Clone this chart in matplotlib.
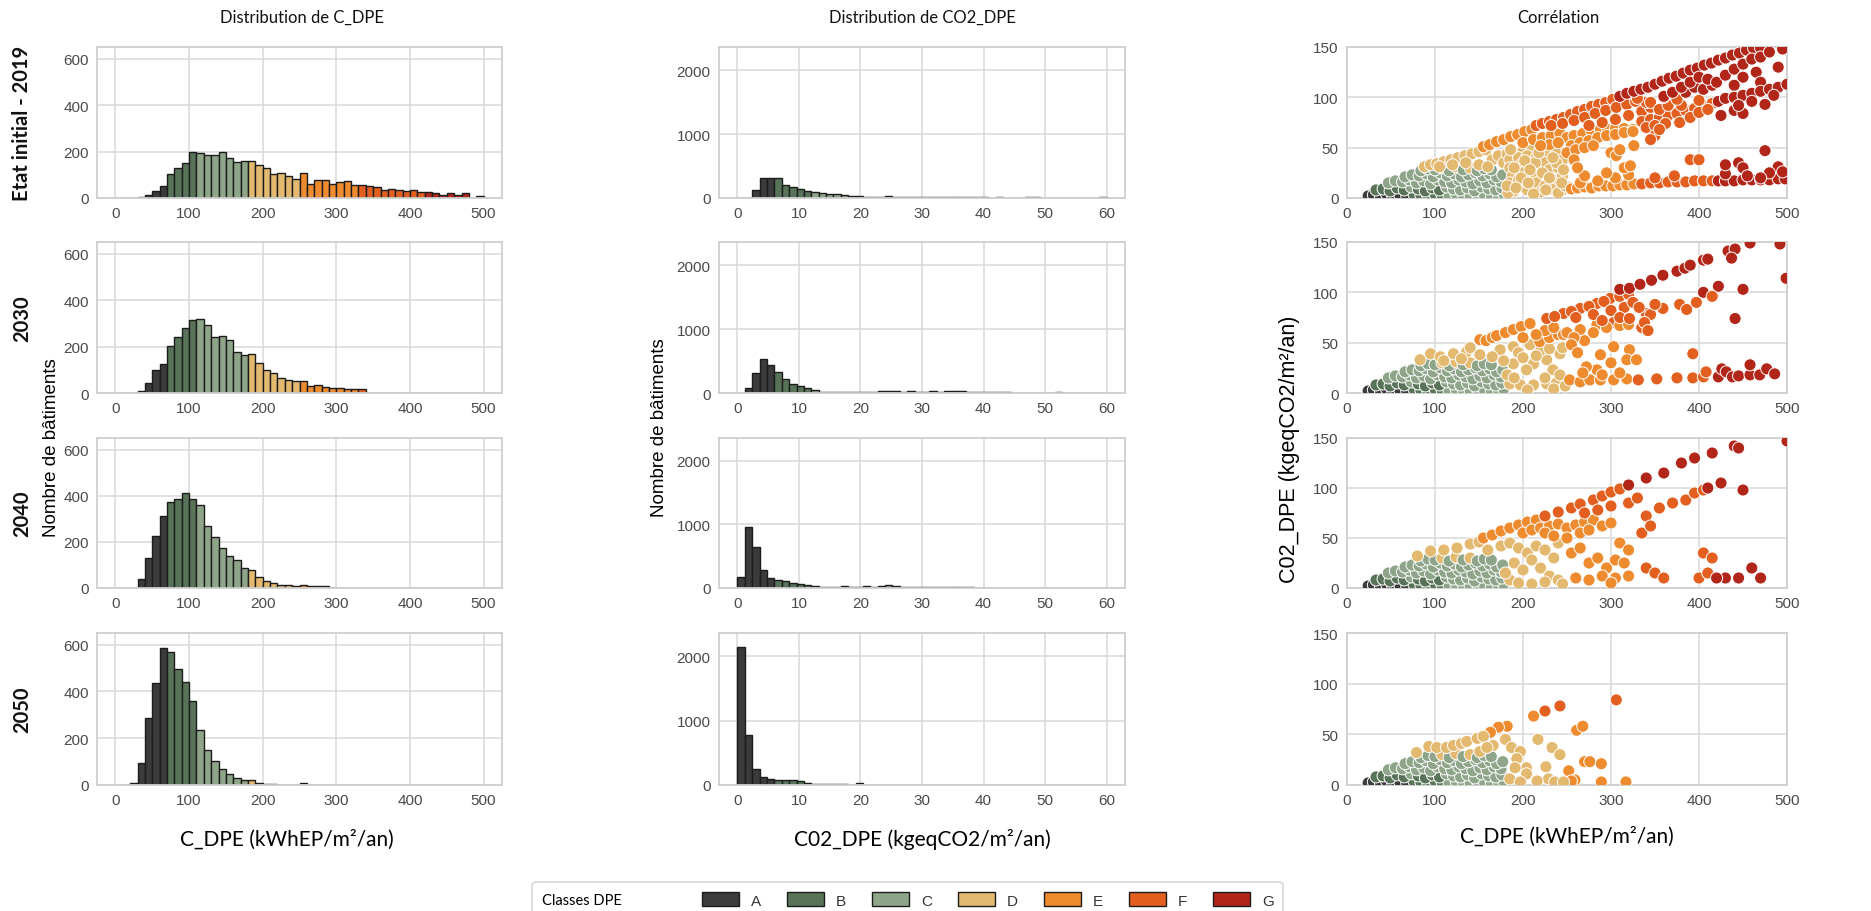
import matplotlib
matplotlib.use('Agg')
import matplotlib.pyplot as plt
import numpy as np
from matplotlib.patches import Patch, FancyBboxPatch

# --- data ---
classes = ['A', 'B', 'C', 'D', 'E', 'F', 'G']
class_colors = ['#3b3b3b', '#587358', '#8ea58a', '#e3b86f', '#ef8b2f', '#e35f20', '#b22519']
e_thr = [70, 110, 180, 250, 330, 420]   # C_DPE class limits
c_thr = [6, 11, 30, 50, 70, 100]        # CO2_DPE class limits
row_names = ['Etat initial - 2019', '2030', '2040', '2050']

# C_DPE histograms, 50 bins of 10 over 0-500
c_2019 = [0, 0, 0, 3, 13, 32, 50, 102, 130, 151,
          200, 193, 183, 187, 200, 173, 155, 160, 160, 144,
          127, 105, 109, 96, 83, 109, 60, 79, 79, 60,
          70, 74, 55, 55, 52, 47, 35, 38, 33, 30,
          33, 25, 25, 20, 15, 20, 12, 20, 0, 8]
c_2030 = [0, 0, 0, 8, 44, 98, 125, 204, 243, 279,
          315, 319, 293, 239, 247, 227, 177, 163, 168, 128,
          98, 88, 66, 55, 52, 52, 30, 35, 25, 22,
          22, 17, 17, 17, 0, 0, 2, 2, 2, 0,
          2, 2, 2, 2, 0, 2, 0, 0, 0, 0]
c_2040 = [0, 0, 2, 39, 132, 226, 314, 371, 386, 412,
          386, 358, 269, 220, 173, 138, 121, 85, 79, 49,
          30, 22, 12, 12, 7, 12, 7, 7, 7, 2,
          2, 2, 2, 2, 0, 0, 0, 0, 0, 0,
          0, 0, 0, 0, 0, 0, 0, 0, 0, 0]
c_2050 = [0, 0, 8, 96, 286, 436, 586, 569, 496, 441,
          361, 237, 149, 103, 67, 45, 32, 20, 20, 10,
          5, 5, 2, 2, 2, 7, 2, 2, 2, 0,
          2, 2, 0, 0, 0, 0, 0, 0, 0, 0,
          0, 0, 0, 0, 0, 0, 0, 0, 0, 0]

# CO2_DPE histograms, 50 bins of 1.2 over 0-60
co2_2019 = [0, 5, 130, 318, 320, 320, 198, 172, 140, 110,
            90, 75, 60, 55, 50, 35, 30, 15, 12, 12,
            25, 12, 10, 10, 10, 10, 10, 10, 10, 10,
            10, 10, 10, 10, 0, 10, 0, 0, 0, 10,
            12, 0, 0, 0, 0, 0, 0, 0, 0, 12]
co2_2030 = [0, 73, 319, 534, 435, 335, 220, 147, 105, 80,
            40, 15, 15, 15, 15, 15, 15, 15, 15, 30,
            30, 30, 15, 30, 15, 15, 30, 15, 30, 30,
            30, 15, 15, 15, 15, 15, 15, 0, 0, 0,
            0, 0, 0, 15, 0, 0, 0, 0, 0, 0]
co2_2040 = [174, 953, 647, 289, 163, 125, 110, 85, 65, 40,
            35, 20, 20, 20, 30, 20, 20, 35, 20, 35,
            55, 35, 20, 20, 20, 20, 20, 20, 20, 20,
            20, 20, 5, 5, 5, 5, 5, 0, 0, 0,
            0, 0, 0, 0, 0, 0, 0, 0, 0, 0]
co2_2050 = [2135, 776, 255, 130, 100, 85, 70, 80, 55, 30,
            15, 12, 12, 12, 12, 5, 25, 3, 3, 3,
            3, 3, 3, 3, 3, 3, 3, 3, 3, 3,
            3, 0, 3, 3, 3, 3, 0, 3, 3, 3,
            3, 3, 0, 3, 3, 0, 3, 0, 3, 3]

# dense low-consumption cloud, same look in every row
cloud_x = [24, 30, 38, 45, 52, 60, 68, 76, 84, 92, 100, 108, 116, 124, 132, 140, 148, 156, 164, 172, 178,
           33, 41, 49, 57, 65, 73, 81, 89, 97, 105, 113, 121, 129, 137, 145, 153, 161, 169, 176,
           47, 55, 63, 71, 79, 87, 95, 103, 111, 119, 127, 135, 143, 151, 159, 167, 175,
           66, 74, 82, 90, 98, 106, 114, 122, 130, 138, 146, 154, 162, 170, 177,
           84, 92, 100, 108, 116, 124, 132, 140, 148, 156, 164]
cloud_y = [2, 3, 2, 4, 2, 3, 2, 4, 3, 2, 4, 3, 2, 4, 3, 2, 4, 3, 2, 3, 4,
           8, 9, 7, 10, 8, 11, 9, 7, 10, 8, 11, 9, 8, 10, 7, 11, 9, 8, 10,
           15, 17, 16, 18, 15, 17, 14, 18, 16, 15, 18, 16, 14, 17, 15, 18, 16,
           21, 23, 22, 24, 21, 25, 22, 24, 21, 23, 25, 22, 24, 21, 23,
           27, 29, 28, 30, 27, 31, 28, 30, 27, 29, 28]

sc_2019_x = [88, 95, 102, 110, 118, 126, 134, 142, 150, 158, 105, 120, 135, 150, 165, 172, 160, 178,
             182, 190, 200, 210, 220, 230, 240, 185, 195, 205, 215, 228, 238, 245, 185, 198, 210, 225,
             188, 200, 215, 230, 240, 185, 200, 215, 235, 245, 190, 205, 220, 232, 245, 183, 212, 240, 195, 225, 248,
             182, 190, 198, 206, 214, 222, 230, 238, 246, 186, 202, 218, 234, 192, 208, 226, 244,
             155, 162, 170, 178, 186, 194, 202, 210,
             200, 212, 222, 232, 242, 250, 258, 268, 278, 288, 296, 305, 315, 325, 255, 265, 275, 285, 295, 305,
             315, 325, 230, 240, 220, 250, 260, 270, 280,
             255, 262, 270, 278, 286, 294, 302, 310, 318, 326, 265, 285, 305, 320, 270, 295,
             300, 306, 310, 315, 322, 326, 258, 262,
             215, 222, 230, 238, 246, 254, 262, 270, 278, 286, 294, 302, 232, 245, 258, 270, 282, 294, 306, 318,
             328, 275, 290, 305, 320, 335, 345, 340, 330,
             335, 345, 355, 365, 375, 385, 395, 405, 415, 340, 350, 362, 378, 390, 400, 410, 350, 355, 345,
             345, 355, 365, 380, 400, 360, 375, 385, 395, 405, 415,
             335, 345, 355, 365, 375, 385, 395, 405, 415, 390, 400, 350, 372,
             310, 318, 326, 334, 342, 350, 358, 366, 374, 382, 390, 398, 406, 414, 422, 430, 438, 446, 454, 462, 470,
             360, 370, 380, 390, 400, 410, 420, 430, 440, 450, 460, 470, 480, 495, 450, 465, 490, 440, 470,
             422, 430, 440, 450, 460, 470, 480, 490, 500, 425, 440, 450, 475, 485, 460, 445,
             422, 430, 440, 450, 460, 470, 480, 490, 498, 430, 445, 450, 475, 490, 495, 480, 455, 430, 470]
sc_2019_y = [31, 33, 34, 36, 38, 40, 42, 44, 46, 48, 31, 33, 35, 33, 38, 42, 31, 35,
             44, 46, 47, 48, 49, 48, 47, 38, 40, 42, 40, 42, 44, 38, 30, 33, 30, 35,
             22, 25, 22, 28, 30, 15, 12, 15, 18, 22, 7, 8, 6, 9, 8, 5, 4, 5, 18, 12, 12,
             12, 30, 20, 15, 35, 25, 20, 35, 28, 48, 37, 45, 40, 10, 28, 8, 15,
             51, 53, 56, 58, 61, 63, 66, 68,
             55, 58, 60, 62, 64, 60, 62, 64, 66, 68, 68, 69, 69, 68, 52, 55, 57, 60, 62, 63,
             65, 66, 53, 55, 52, 45, 48, 50, 52,
             9, 10, 11, 10, 12, 12, 12, 13, 13, 14, 15, 17, 20, 23, 22, 25,
             45, 42, 48, 30, 32, 52, 38, 30,
             72, 74, 76, 78, 80, 83, 86, 88, 91, 93, 95, 98, 72, 74, 77, 80, 84, 87, 90, 93,
             96, 72, 75, 78, 82, 86, 90, 95, 99,
             76, 78, 80, 82, 84, 87, 89, 91, 94, 70, 72, 74, 75, 80, 85, 88, 62, 68, 58,
             95, 88, 92, 92, 97, 100, 98, 105, 110, 108, 112,
             14, 15, 15, 16, 16, 16, 17, 17, 17, 38, 38, 20, 22,
             101, 104, 106, 108, 110, 113, 116, 119, 121, 124, 127, 129, 132, 134, 137, 139, 142, 144, 147, 149, 149,
             101, 105, 110, 115, 120, 118, 115, 122, 128, 133, 138, 140, 145, 148, 120, 125, 130, 112, 115,
             96, 99, 100, 102, 104, 106, 108, 110, 113, 82, 87, 84, 93, 102, 96, 92,
             17, 17, 17, 18, 18, 18, 18, 19, 19, 24, 35, 30, 47, 31, 26, 25, 22, 33, 20]

sc_2030_x = [83, 95, 106, 121, 136, 140, 151, 174, 189, 208, 185, 197, 212, 227, 238, 212, 227, 234, 242,
             189, 204, 182, 242, 195, 220, 230, 200, 215, 110, 130, 165, 178, 245, 225, 190, 205, 235, 248,
             151, 158, 165, 170, 180, 189, 198, 208, 219, 230, 240, 246, 225, 235, 215, 200, 250, 265, 284, 303,
             270, 258, 280, 295, 310, 320, 255, 262, 288, 303, 321, 318, 329, 284, 272, 300, 253, 265, 276, 288,
             303, 318, 310, 290, 268,
             227, 246, 265, 284, 299, 236, 255, 275, 292, 310, 320, 260, 280, 300, 315, 325, 290, 310, 321, 340,
             359, 378, 386, 397, 416, 332, 345, 350, 335, 338, 342, 393, 331, 352, 375, 393, 405, 408,
             310, 321, 333, 346, 359, 375, 384, 390, 405, 410, 433, 441, 458, 492, 499, 405, 422, 450, 441, 437,
             422, 426, 431, 438, 445, 458, 458, 469, 477, 486, 415]
sc_2030_y = [33, 39, 36, 39, 41, 45, 38, 43, 46, 48, 9, 8, 8, 9, 10, 29, 33, 23, 18,
             29, 23, 18, 39, 40, 42, 44, 35, 37, 32, 34, 36, 32, 45, 15, 15, 3, 4, 7,
             53, 52, 55, 57, 60, 63, 66, 69, 51, 55, 58, 58, 62, 65, 58, 55, 60, 63, 68, 70,
             52, 55, 60, 65, 67, 68, 48, 40, 38, 46, 43, 33, 33, 23, 26, 30, 13, 11, 13, 13,
             13, 14, 20, 18, 20,
             74, 79, 84, 89, 94, 76, 81, 86, 91, 96, 98, 75, 78, 82, 85, 90, 72, 75, 74, 79,
             84, 88, 83, 90, 97, 85, 78, 88, 65, 70, 62, 39, 13, 14, 15, 15, 16, 21,
             103, 104, 108, 112, 117, 121, 124, 127, 132, 133, 141, 143, 149, 148, 114, 100, 106, 103, 74, 134,
             16, 24, 21, 16, 17, 18, 28, 18, 24, 19, 96]

sc_2040_x = [80, 95, 110, 125, 140, 150, 160, 175, 185, 195, 205, 215, 225, 235, 190, 200, 210, 220, 230,
             240, 185, 195, 210, 225, 245, 180, 240,
             155, 165, 175, 185, 195, 205, 215, 200, 210, 220, 230, 240, 225, 235, 250, 260, 270, 280, 250, 265,
             275, 290, 300, 255, 265, 275, 285, 295, 305, 315, 310, 320, 260, 275, 290, 305, 320, 300,
             225, 240, 255, 265, 280, 290, 300, 310, 270, 285, 300, 320, 330, 340, 355, 370, 385, 395, 405, 340,
             350, 360, 400, 410, 405, 415, 335, 345,
             320, 340, 360, 380, 395, 415, 440, 445, 500, 410, 425, 450, 460, 470, 430, 420, 445]
sc_2040_y = [32, 37, 38, 40, 44, 46, 38, 42, 45, 40, 35, 42, 38, 30, 25, 18, 28, 20, 12,
             8, 8, 5, 4, 6, 4, 15, 45,
             50, 53, 57, 60, 63, 66, 68, 55, 58, 60, 62, 64, 55, 52, 60, 63, 66, 68, 50, 55,
             58, 62, 65, 35, 40, 25, 30, 20, 28, 25, 45, 38, 10, 8, 12, 10, 12, 5,
             72, 76, 80, 84, 88, 92, 96, 99, 75, 78, 82, 85, 90, 72, 80, 85, 88, 95, 98, 20,
             15, 10, 10, 15, 35, 30, 55, 62,
             103, 110, 115, 125, 130, 135, 142, 140, 147, 100, 105, 98, 20, 10, 10, 10, 10]

sc_2050_x = [306, 242, 225, 212, 182, 172, 163, 261, 268, 270, 276, 289, 252, 259, 289, 317, 255,
             93, 102, 113, 121, 130, 136, 148, 155, 166, 180, 187, 197, 193, 204, 191, 217, 233, 242, 226,
             204, 229, 216, 236, 246, 185, 197, 151, 159, 79]
sc_2050_y = [84, 78, 73, 68, 58, 57, 52, 54, 58, 23, 23, 21, 14, 5, 3, 3, 4,
             38, 37, 37, 39, 41, 43, 46, 48, 39, 45, 37, 33, 26, 17, 17, 45, 37, 30, 18,
             11, 6, 4, 3, 3, 6, 3, 33, 37, 32]

# --- figure ---
W, H = 1871, 912
plt.rcParams['font.family'] = ['Liberation Sans', 'DejaVu Sans']
fig = plt.figure(figsize=(W / 100, H / 100), dpi=100)
fig.patch.set_facecolor('white')

col_lr = [(97, 502), (719, 1125), (1347, 1787)]
row_tb = [(48, 199), (243, 394), (439, 589), (634, 786)]


def add_ax(l, t, r, b):
    return fig.add_axes([l / W, 1 - b / H, (r - l) / W, (b - t) / H])


def style(ax):
    ax.set_facecolor('white')
    ax.grid(True, color='#d9d9d9', lw=1.1)
    ax.set_axisbelow(True)
    for sp in ax.spines.values():
        sp.set_color('#cfcfcf')
        sp.set_linewidth(1.3)
    ax.tick_params(length=0, labelsize=11, labelcolor='#4a4a4a', pad=6)


def cls_of(vals, thr):
    return np.searchsorted(thr, vals, side='right')


c_hists = [c_2019, c_2030, c_2040, c_2050]
co2_hists = [co2_2019, co2_2030, co2_2040, co2_2050]
scatters = [(sc_2019_x, sc_2019_y), (sc_2030_x, sc_2030_y), (sc_2040_x, sc_2040_y), (sc_2050_x, sc_2050_y)]
e_edges = np.linspace(0, 500, 51)
c_edges = np.linspace(0, 60, 51)
pal = np.array(class_colors)

for i, (t, b) in enumerate(row_tb):
    # C_DPE histogram
    ax = add_ax(col_lr[0][0], t, col_lr[0][1], b)
    style(ax)
    ax.bar(e_edges[:-1], c_hists[i], width=np.diff(e_edges), align='edge',
           color=pal[cls_of(e_edges[:-1] + 1e-6, e_thr)], edgecolor='#1c1c1c', linewidth=1.0, zorder=2)
    ax.set_xlim(-25, 525)
    ax.set_ylim(0, 650)
    ax.set_xticks(range(0, 501, 100))
    ax.set_yticks([0, 200, 400, 600])

    # CO2_DPE histogram
    ax = add_ax(col_lr[1][0], t, col_lr[1][1], b)
    style(ax)
    ax.bar(c_edges[:-1], co2_hists[i], width=np.diff(c_edges), align='edge',
           color=pal[cls_of(c_edges[:-1] + 1e-6, c_thr)], edgecolor='#1c1c1c', linewidth=1.0, zorder=2)
    ax.set_xlim(-3, 63)
    ax.set_ylim(0, 2360)
    ax.set_xticks(range(0, 61, 10))
    ax.set_yticks([0, 1000, 2000])

    # correlation scatter
    ax = add_ax(col_lr[2][0], t, col_lr[2][1], b)
    style(ax)
    xs = np.array(cloud_x + scatters[i][0], dtype=float)
    ys = np.array(cloud_y + scatters[i][1], dtype=float)
    k = np.maximum(cls_of(xs, e_thr), cls_of(ys, c_thr))
    ax.scatter(xs, ys, s=76, c=pal[k], edgecolors='white', linewidths=0.7, zorder=3)
    ax.set_xlim(0, 500)
    ax.set_ylim(0, 150)
    ax.set_xticks(range(0, 501, 100))
    ax.set_yticks([0, 50, 100, 150])

    fig.text(22 / W, 1 - (t + b) / 2 / H, row_names[i], rotation=90, ha='center', va='center',
             family='Lato', fontweight='bold', fontsize=14.5, color='#111111')

# column titles
for xc, txt in [(302, 'Distribution de C_DPE'), (922, 'Distribution de CO2_DPE'), (1558, 'Corrélation')]:
    fig.text(xc / W, 1 - 18 / H, txt, ha='center', va='center', family='Lato', fontsize=12, color='#111111')

# axis labels
fig.text(287 / W, 1 - 840 / H, 'C_DPE (kWhEP/m²/an)', ha='center', va='center', family='Lato', fontsize=15)
fig.text(922 / W, 1 - 840 / H, 'C02_DPE (kgeqCO2/m²/an)', ha='center', va='center', family='Lato', fontsize=15)
fig.text(1567 / W, 1 - 837 / H, 'C_DPE (kWhEP/m²/an)', ha='center', va='center', family='Lato', fontsize=15)
fig.text(52 / W, 1 - 448 / H, 'Nombre de bâtiments', rotation=90, ha='center', va='center', fontsize=13.5)
fig.text(660 / W, 1 - 428 / H, 'Nombre de bâtiments', rotation=90, ha='center', va='center', fontsize=13.5)
fig.text(1289 / W, 1 - 449 / H, 'C02_DPE (kgeqCO2/m²/an)', rotation=90, ha='center', va='center', fontsize=15.5)

# legend
box = FancyBboxPatch((532 / W, 1 - 935 / H), (1283 - 532) / W, 52 / H,
                     boxstyle='round,pad=0,rounding_size=0.003', transform=fig.transFigure,
                     facecolor='white', edgecolor='#d0d0d0', linewidth=1.0)
fig.patches.append(box)
fig.text(582 / W, 1 - 901 / H, 'Classes DPE', ha='center', va='center', family='Lato', fontsize=10.5)
handles = [Patch(facecolor=c, edgecolor='#1c1c1c', linewidth=1.0) for c in class_colors]
fig.legend(handles, classes, ncol=7, loc='center', bbox_to_anchor=(988 / W, 1 - 901 / H),
           frameon=False, fontsize=11, handlelength=2.4, handleheight=1.0, handletextpad=0.8,
           columnspacing=1.7, labelcolor='#333333')

fig.savefig('out.png', dpi=100)
